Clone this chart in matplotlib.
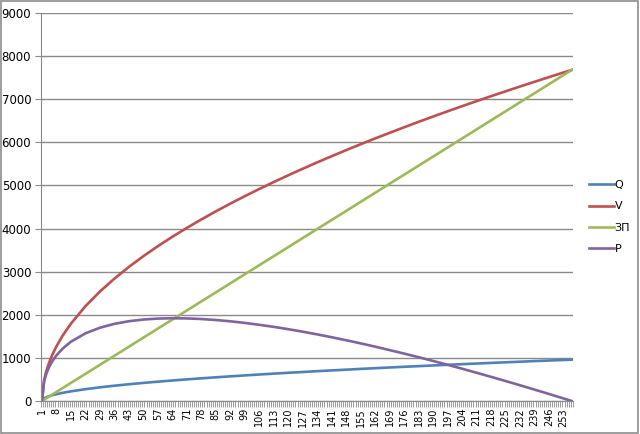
import matplotlib
matplotlib.use("Agg")
import matplotlib.pyplot as plt
from matplotlib.patches import Rectangle

x_pts = [1, 2, 3, 4, 5, 6, 8, 11, 15, 22, 29, 36, 43, 50, 57, 64, 71, 78, 85, 92,
         99, 106, 113, 120, 127, 134, 141, 148, 155, 162, 169, 176, 183, 190,
         197, 204, 211, 218, 225, 232, 239, 246, 253, 257]

q_vals = [0, 60, 85, 104, 120, 134, 159, 190, 224, 275, 317, 355, 389, 420, 449,
          476, 502, 526, 550, 572, 594, 615, 635, 655, 673, 692, 710, 727, 745,
          761, 778, 794, 809, 825, 840, 855, 869, 884, 898, 912, 926, 939, 952, 960]
v_vals = [0, 480, 679, 831, 960, 1073, 1270, 1518, 1796, 2200, 2540, 2840, 3111,
          3360, 3592, 3810, 4016, 4212, 4399, 4579, 4752, 4918, 5080, 5236, 5388,
          5536, 5679, 5820, 5957, 6091, 6221, 6350, 6476, 6599, 6720, 6839, 6956,
          7071, 7184, 7295, 7405, 7513, 7620, 7680]
zp_vals = [0, 30, 60, 90, 120, 150, 210, 300, 420, 630, 840, 1050, 1260, 1470,
           1680, 1890, 2100, 2310, 2520, 2730, 2940, 3150, 3360, 3570, 3780, 3990,
           4200, 4410, 4620, 4830, 5040, 5250, 5460, 5670, 5880, 6090, 6300, 6510,
           6720, 6930, 7140, 7350, 7560, 7680]
p_vals = [0, 450, 619, 741, 840, 923, 1060, 1218, 1376, 1570, 1700, 1790, 1851,
          1890, 1912, 1920, 1916, 1902, 1879, 1849, 1812, 1768, 1720, 1666, 1608,
          1546, 1479, 1410, 1337, 1261, 1181, 1100, 1016, 929, 840, 749, 656, 561,
          464, 365, 265, 163, 60, 0]

n_categories = 257
tick_labels = list(range(1, 254, 7))
y_ticks = list(range(0, 9001, 1000))

fig = plt.figure(figsize=(6.4, 4.34), dpi=100)
fig.patches.append(Rectangle((0.002, 0.003), 0.995, 0.994, transform=fig.transFigure,
                             fill=False, edgecolor="#8c8c8c", linewidth=1.2))
ax = fig.add_axes([0.064, 0.076, 0.831, 0.894])

ax.plot(x_pts, q_vals, color="#4F81BD", lw=1.9, label="Q")
ax.plot(x_pts, v_vals, color="#C0504D", lw=1.9, label="V")
ax.plot(x_pts, zp_vals, color="#9BBB59", lw=1.9, label="ЗП")
ax.plot(x_pts, p_vals, color="#8064A2", lw=1.9, label="P")

ax.set_xlim(0.5, n_categories + 0.5)
ax.set_ylim(0, 9000)
ax.set_yticks(y_ticks)
ax.yaxis.grid(True, color="#8a8a8a", lw=1)
ax.set_axisbelow(True)

ax.set_xticks(tick_labels)
ax.set_xticklabels([str(t) for t in tick_labels], rotation=90, fontsize=7)
ax.set_xticks([i + 0.5 for i in range(0, n_categories + 1)], minor=True)
ax.tick_params(axis="x", which="major", length=0, pad=5)
ax.tick_params(axis="x", which="minor", length=4, color="#8a8a8a", direction="out")
ax.tick_params(axis="y", labelsize=8.5, length=4, color="#8a8a8a", pad=3)

for side in ["top", "right"]:
    ax.spines[side].set_visible(False)
for side in ["left", "bottom"]:
    ax.spines[side].set_color("#8a8a8a")

fig.legend(loc="center left", bbox_to_anchor=(0.905, 0.5), frameon=False,
           fontsize=8, handlelength=2.2, handletextpad=0.1, labelspacing=1.0)

fig.savefig("out.png", dpi=100)
